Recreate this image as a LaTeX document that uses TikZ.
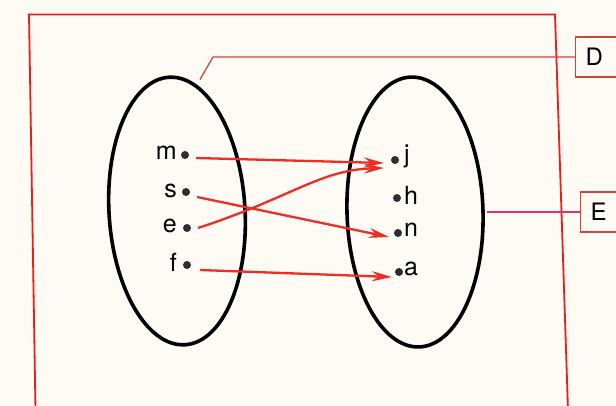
\documentclass[tikz,border=0pt]{standalone}
\usepackage{fontspec}
\setmainfont{TeX Gyre Heros}
\usetikzlibrary{arrows.meta}
\definecolor{paper}{RGB}{253,251,244}
\definecolor{frame}{RGB}{235,30,30}
\definecolor{arr}{RGB}{238,45,40}
\definecolor{lead}{RGB}{205,70,60}
\definecolor{dotc}{RGB}{45,45,50}
\begin{document}
\begin{tikzpicture}[x=1pt,y=-1pt,
  lbl/.style={font=\fontsize{25}{25}\selectfont, inner sep=0pt},
  pt/.style={circle, fill=dotc, inner sep=0pt, minimum size=8pt},
  maparrow/.style={arr, line width=2.3pt, -{Stealth[length=20pt,width=10pt]}},
  leader/.style={lead, line width=1.3pt},
  callout/.style={draw=lead, line width=1.3pt, font=\fontsize{24}{24}\selectfont, anchor=west, minimum width=60pt, text width=40pt, inner xsep=10pt}]
\useasboundingbox (0,0) rectangle (616,405);
\fill[paper] (0,0) rectangle (616,405);
% frame
\draw[frame, line width=1.8pt] (35.5,410) -- (29,14.5) -- (555,14.5) -- (568,410);
% ellipses
\draw[line width=3.6pt] (177,211) ellipse[x radius=68, y radius=134, rotate=3.4];
\draw[line width=3.6pt] (415,212) ellipse[x radius=68, y radius=135, rotate=1.7];
% left points
\node[pt] (m) at (185,155) {};
\node[pt] (s) at (186,192) {};
\node[pt] (e) at (187,228) {};
\node[pt] (f) at (187,265) {};
\node[lbl, anchor=east] (tm) at (177,153) {m};
\node[lbl, anchor=east] (ts) at (177,191) {s};
\node[lbl, anchor=east] (te) at (177,226) {e};
\node[lbl, anchor=east] (tf) at (177,262) {f};
% right points
\node[pt] (j) at (395,160) {};
\node[pt] (h) at (397,198) {};
\node[pt] (n) at (398,233) {};
\node[pt] (a) at (399,272) {};
\node[lbl, anchor=west] (tj) at (404,156) {j};
\node[lbl, anchor=west] (th) at (404,195) {h};
\node[lbl, anchor=west] (tn) at (404,230) {n};
\node[lbl, anchor=west] (ta) at (404,269) {a};
% arrows
\draw[maparrow] ([xshift=11pt,yshift=-3pt]m.center) -- ([xshift=-11pt,yshift=-3pt]j.center);
\draw[maparrow] ([xshift=11pt,yshift=-5pt]s.center) -- ([xshift=-9pt,yshift=-4pt]n.center);
\draw[maparrow] ([xshift=11pt,yshift=0pt]e.center) .. controls (290,198) and (320,170) .. ([xshift=-11pt,yshift=-8pt]j.center);
\draw[maparrow] ([xshift=13pt,yshift=-5pt]f.center) -- ([xshift=-7pt,yshift=-5pt]a.center);
% callouts
\node[callout, minimum height=40pt] (D) at (575,57) {D};
\node[callout, minimum height=40pt] (E) at (580,212) {E};
\coordinate (dEnd) at (200,79.5);
\coordinate (dKnee) at (213,57);
\coordinate (eEnd) at (487,212);
\draw[leader] (dEnd) -- (dKnee) -- (D.west);
\draw[leader, draw=lead!70!magenta] (eEnd) -- (E.west);
\end{tikzpicture}
\end{document}
